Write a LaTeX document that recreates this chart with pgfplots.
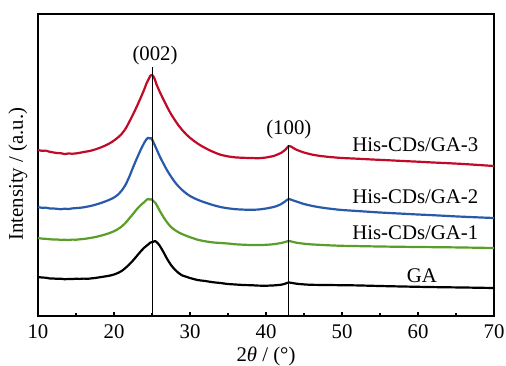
\documentclass[border=0pt]{standalone}
\usepackage{pgfplots}
\pgfplotsset{compat=1.18}
\usepackage{fontspec}
\setmainfont{Liberation Serif}

\definecolor{xrdred}{RGB}{192,10,40}
\definecolor{xrdblue}{RGB}{40,90,170}
\definecolor{xrdgreen}{RGB}{88,158,40}

\begin{document}
\fontsize{10.4}{12.5}\selectfont
\begin{tikzpicture}
\path[use as bounding box] (-19pt,-24.5pt) rectangle (234pt,158pt);
\begin{axis}[
  scale only axis,
  width=228pt, height=151pt,
  xmin=10, xmax=70, ymin=0, ymax=302,
  xtick={10,20,...,70},
  minor x tick num=1,
  xtick pos=bottom,
  ytick=\empty,
  tick align=inside,
  major tick length=2.2pt,
  minor tick length=1.3pt,
  axis line style={line width=0.8pt},
  every tick/.style={black, line width=0.6pt},
  /pgf/number format/assume math mode=true,
  ticklabel style={font=\fontsize{10.4}{12.5}\selectfont, inner sep=1pt},
  xticklabel style={yshift=-3.2pt},
  xlabel={2\textit{θ} / (°)},
  ylabel={Intensity / (a.u.)},
  xlabel style={at={(axis description cs:0.5,0)}, anchor=center, yshift=-20.3pt, inner sep=0.5pt},
  ylabel style={at={(axis description cs:-0.044,0.47)}, anchor=center},
  label style={font=\fontsize{10.4}{12.5}\selectfont},
  every axis plot/.append style={line width=1.1pt, line join=round, smooth, tension=0.35},
  clip=false,
]
% GA
\addplot[black] coordinates {
(10,39) (10.5,38.5) (11,38.3) (11.5,37.6) (12,37.5) (12.5,37.2) (13,37.3) (13.5,36.8)
(14,37) (14.5,36.9) (15,37.3) (15.5,37.1) (16,37.4) (16.5,37.2) (17,37.6) (17.5,38)
(18,38.6) (18.5,39.2) (19,39.8) (19.5,40.5) (20,41.5) (20.5,43) (21,45) (21.5,48)
(22,51.5) (22.5,55.5) (23,60) (23.5,64.5) (24,68.5) (24.5,71.5) (24.8,73.5) (25.1,74)
(25.4,75) (25.7,73.2) (26,70.5) (26.5,64) (27,57) (27.5,51) (28,46.5) (28.5,43)
(29,40.5) (29.5,39.3) (30,38) (31,36) (32,35) (33,33.8) (34,33) (35,32) (36,31.5)
(37,31) (38,30.8) (39,30.4) (40,30.3) (41,30.6) (42,31.3) (42.5,32.3) (43,33.5)
(43.5,33) (44,32.3) (45,31.6) (46,31.2) (48,31) (50,30.8) (52,30.6) (55,30) (58,29.5)
(60,29.2) (63,28.8) (66,28.5) (70,28)
};
% His-CDs/GA-1
\addplot[xrdgreen] coordinates {
(10,78) (10.5,77.4) (11,77.2) (11.5,76.8) (12,76.5) (12.5,76.6) (13,76.1) (13.5,76.3)
(14,76) (14.5,76.4) (15,76.3) (15.5,76.7) (16,77) (16.5,77.6) (17,78.2) (17.5,78.9)
(18,79.8) (18.5,80.8) (19,81.9) (19.5,83.2) (20,84.8) (20.5,86.8) (21,89.5) (21.5,93) (22,97.5)
(22.5,102) (23,106.8) (23.5,110.8) (24,114) (24.3,116.3) (24.5,117) (24.7,116.5)
(24.9,116.8) (25.2,114.8) (25.5,112.5) (26,105.5) (26.5,99) (27,93.5) (27.5,89)
(28,86) (28.5,83.7) (29,81.8) (30,78.8) (31,76.3) (32,74.7) (33,73.6) (34,73) (35,72.5)
(36,71.7) (37,71.3) (38,71) (39,71) (40,71.2) (41,71.8) (42,73) (42.5,74) (43,75)
(43.5,74.2) (44,73.3) (45,72.3) (46,71.6) (48,70.8) (50,70.2) (55,69.5) (60,69) (65,68.6)
(70,68)
};
% His-CDs/GA-2
\addplot[xrdblue] coordinates {
(10,109) (10.5,108.2) (11,108.4) (11.5,107.6) (12,107.5) (12.5,107.2) (13,106.8)
(13.5,107.3) (14,107) (14.5,107.6) (15,107.9) (15.5,108.2) (16,108.7) (16.5,109.4)
(17,110.2) (17.5,111.2) (18,112.3) (18.5,113.6) (19,115) (19.5,116.6) (20,118.5) (20.5,121.2)
(21,125.3) (21.5,131) (22,139) (22.5,148.5) (23,157.5) (23.5,166) (24,173.5) (24.3,177)
(24.5,178.3) (24.7,177.5) (24.9,178) (25.2,173.5) (25.5,168.5) (26,160) (26.5,152.5)
(27,145.5) (27.5,139.5) (28,134) (28.5,129.5) (29,125.8) (29.5,122.6) (30,120)
(30.5,118) (31,116.3) (31.5,114.8) (32,113.5) (33,111) (34,109) (35,107.7)
(36,106.8) (37,106.4) (38,106.2) (39,106.5) (40,107.5) (41,109) (41.5,110.2) (42,112)
(42.5,114.5) (42.8,116.3) (43,117) (43.3,116.4) (43.6,115.5) (44,114.5) (44.5,113.2)
(45,112) (46,110.2) (47,108.8) (48,107.7) (49,106.8) (50,106) (52,105) (55,103.5)
(58,102.3) (60,101.5) (62,100.8) (65,99.6) (68,98.6) (70,98)
};
% His-CDs/GA-3
\addplot[xrdred] coordinates {
(10,166) (10.5,165.2) (11,165.4) (11.5,164.3) (12,163.6) (12.5,163) (13,162.8)
(13.5,162) (14,162.5) (14.5,162.3) (15,162.6) (15.5,163.2) (16,164) (16.5,164.6)
(17,165.4) (17.5,166.5) (18,167.8) (18.5,169.3) (19,171) (19.5,173) (20,175.5)
(20.5,178.4) (21,182) (21.5,187) (22,194) (22.5,201.5) (23,209.5) (23.5,218) (24,227)
(24.3,233) (24.6,237.5) (24.8,240.5) (25,241) (25.2,239.5) (25.4,236) (25.6,231.5)
(26,224.5) (26.5,216.5) (27,209) (27.5,202) (28,196) (28.5,190.5) (29,185.8) (29.5,181.7)
(30,178.2) (30.5,175.2) (31,172.5) (31.5,170.1) (32,168) (32.5,166) (33,164.3) (33.5,162.7)
(34,161.3) (35,159.6) (36,158.6) (37,158.2) (38,158) (39,157.8) (40,158.5) (41,160)
(41.5,161.5) (42,163.2) (42.5,166) (42.8,168.5) (43,170) (43.3,169.5) (43.6,168)
(44,166.3) (44.5,164.8) (45,163.5) (46,161.5) (47,160.2) (48,159.3) (49,158.6) (50,158)
(52,157.3) (54,156.5) (56,155.8) (58,155) (60,154.3) (62,153.5) (64,152.8) (66,152)
(68,151) (70,150)
};
% reflection positions
\addplot[black, line width=0.6pt, sharp plot] coordinates {(25.1,0) (25.1,249)};
\addplot[black, line width=0.6pt, sharp plot] coordinates {(43,0) (43,171)};
\node at (axis cs:25.4,261) {(002)};
\node at (axis cs:43,187) {(100)};
\node[anchor=east] at (axis cs:68.9,171) {His-CDs/GA-3};
\node[anchor=east] at (axis cs:68.9,119) {His-CDs/GA-2};
\node[anchor=east] at (axis cs:68.9,83) {His-CDs/GA-1};
\node at (axis cs:60.5,40) {GA};
\end{axis}
\end{tikzpicture}
\end{document}
